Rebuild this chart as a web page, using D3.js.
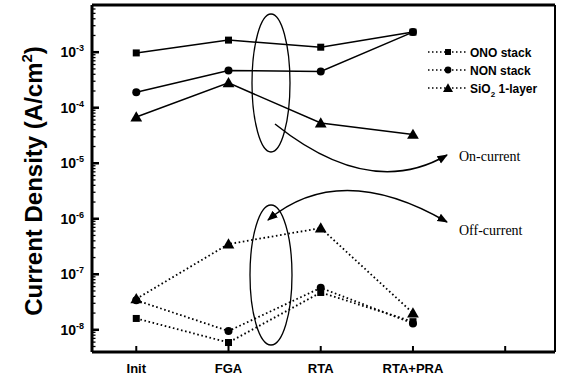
<!DOCTYPE html>
<html><head><meta charset="utf-8">
<script src="https://cdn.jsdelivr.net/npm/d3@7"></script>
<style>body{margin:0;background:#fff}svg{display:block}</style>
</head><body>
<script>
const xTicks = ["Init","FGA","RTA","RTA+PRA",""];
const categories = ["Init","FGA","RTA","RTA+PRA"];
const onONO  = [9.7e-4, 1.65e-3, 1.23e-3, 2.3e-3];
const onNON  = [1.9e-4, 4.7e-4, 4.5e-4, 2.3e-3];
const onSiO2 = [6.8e-5, 2.8e-4, 5.3e-5, 3.3e-5];
const offONO  = [1.6e-8, 5.9e-9, 4.7e-8, 1.4e-8];
const offNON  = [3.4e-8, 9.5e-9, 5.7e-8, 1.3e-8];
const offSiO2 = [3.6e-8, 3.5e-7, 6.8e-7, 2.0e-8];
const yTickExps = [-8,-7,-6,-5,-4,-3];
const legendNames = ["ONO stack","NON stack","SiO\u2082 1-layer"];

const W=561,H=389;
const svg=d3.select("body").append("svg").attr("width",W).attr("height",H);
const L=92,R=555,T=5,B=352;
const x=d3.scaleLinear().domain([-0.48,4.54]).range([L,R]);
const y=d3.scaleLog().domain([Math.pow(10,-8.4),Math.pow(10,-2.15)]).range([B,T]);

// frame
const g=svg.append("g");
g.append("line").attr("x1",L).attr("x2",R).attr("y1",T).attr("y2",T).attr("stroke","#000").attr("stroke-width",3);
g.append("line").attr("x1",L).attr("x2",L).attr("y1",T).attr("y2",B).attr("stroke","#000").attr("stroke-width",3);
g.append("line").attr("x1",L).attr("x2",R).attr("y1",B).attr("y2",B).attr("stroke","#000").attr("stroke-width",3);
g.append("line").attr("x1",R).attr("x2",R).attr("y1",T).attr("y2",B).attr("stroke","#000").attr("stroke-width",2);

// y ticks
const [d0,d1]=y.domain();
const minor=[];
for(let e=-9;e<=-2;e++)for(let m=1;m<10;m++){const v=m*Math.pow(10,e);if(v>=d0&&v<=d1)minor.push({v,major:m===1});}
g.selectAll(".yt").data(minor).join("line")
 .attr("x1",L).attr("x2",d=>L+(d.major?7:3.5)).attr("y1",d=>y(d.v)).attr("y2",d=>y(d.v))
 .attr("stroke","#000").attr("stroke-width",d=>d.major?2.5:1.3);
const yl=g.selectAll(".yl").data(yTickExps).join("text")
 .attr("x",L-8).attr("y",d=>y(Math.pow(10,d))+5)
 .attr("text-anchor","end").attr("font-family","Liberation Sans, Arial, sans-serif")
 .attr("font-size",14).attr("font-weight","bold");
yl.append("tspan").text("10");
yl.append("tspan").attr("dy",-6).attr("font-size",9).text(d=>"-"+Math.abs(d));

// x ticks
g.selectAll(".xt").data(xTicks).join("line")
 .attr("x1",(d,i)=>x(i)).attr("x2",(d,i)=>x(i)).attr("y1",B).attr("y2",B-6)
 .attr("stroke","#000").attr("stroke-width",2);
g.selectAll(".xl").data(xTicks).join("text")
 .attr("x",(d,i)=>x(i)).attr("y",B+21).attr("text-anchor","middle")
 .attr("font-family","Liberation Sans, Arial, sans-serif").attr("font-size",13).attr("font-weight","bold")
 .text(d=>d);

// y title
svg.append("text").attr("transform","translate(42,181) rotate(-90)")
 .attr("text-anchor","middle").attr("font-family","Liberation Sans, Arial, sans-serif")
 .attr("font-size",24).attr("font-weight","bold")
 .html('Current Density (A/cm<tspan dy="-10" font-size="15">2</tspan><tspan dy="10">)</tspan>');

// symbols
function marker(sel,type,cx,cy,s){
  if(type==="square") sel.append("rect").attr("x",cx-3.5*s).attr("y",cy-3.5*s).attr("width",7*s).attr("height",7*s).attr("fill","#000");
  else if(type==="circle") sel.append("circle").attr("cx",cx).attr("cy",cy).attr("r",4*s).attr("fill","#000");
  else sel.append("path").attr("d",d3.symbol(d3.symbolTriangle,60*s*s)()).attr("transform",`translate(${cx},${cy+1})`).attr("fill","#000");
}
const line=d3.line().x((d,i)=>x(i)).y(d=>y(d));
const series=[
 {v:onONO,t:"square",dash:null},{v:onNON,t:"circle",dash:null},{v:onSiO2,t:"triangle",dash:null},
 {v:offONO,t:"square",dash:"1.6,2.6"},{v:offNON,t:"circle",dash:"1.6,2.6"},{v:offSiO2,t:"triangle",dash:"1.6,2.6"}
];
series.forEach(s=>{
  svg.append("path").attr("d",line(s.v)).attr("fill","none").attr("stroke","#000")
   .attr("stroke-width",s.dash?1.8:1.5).attr("stroke-dasharray",s.dash);
  s.v.forEach((v,i)=>marker(svg,s.t,x(i),y(v),1));
});

// legend
const types=["square","circle","triangle"];
const ly=[52,70,88];
legendNames.forEach((n,i)=>{
  svg.append("line").attr("x1",428).attr("x2",466).attr("y1",ly[i]).attr("y2",ly[i])
   .attr("stroke","#000").attr("stroke-width",1.5).attr("stroke-dasharray","1.5,2.5");
  marker(svg,types[i],448,ly[i],0.85);
  const t=svg.append("text").attr("x",470).attr("y",ly[i]+4.5)
   .attr("font-family","Liberation Sans, Arial, sans-serif").attr("font-size",12).attr("font-weight","bold");
  if(i===2){t.html('SiO<tspan dy="4" font-size="8">2</tspan><tspan dy="-4"> 1-layer</tspan>');}
  else t.text(n);
});

// ellipses
svg.append("ellipse").attr("cx",271).attr("cy",83).attr("rx",19).attr("ry",69).attr("fill","none").attr("stroke","#000").attr("stroke-width",1.3);
svg.append("ellipse").attr("cx",271).attr("cy",275).attr("rx",21).attr("ry",70).attr("fill","none").attr("stroke","#000").attr("stroke-width",1.3);

// arrows
const defs=svg.append("defs");
defs.append("marker").attr("id","ah").attr("viewBox","0 0 10 10").attr("refX",9).attr("refY",5)
 .attr("markerWidth",7).attr("markerHeight",7).attr("orient","auto-start-reverse")
 .append("path").attr("d","M0,1 L10,5 L0,9 Z").attr("fill","#000");
svg.append("path").attr("d","M275,124 Q370,200 447,155").attr("fill","none").attr("stroke","#000").attr("stroke-width",1.5).attr("marker-end","url(#ah)");
svg.append("path").attr("d","M268,220 Q340,160 447,222").attr("fill","none").attr("stroke","#000").attr("stroke-width",1.5).attr("marker-end","url(#ah)").attr("marker-start","url(#ah)");

svg.append("text").attr("x",459).attr("y",161).attr("font-family","Liberation Serif, serif").attr("font-size",14).text("On-current");
svg.append("text").attr("x",459).attr("y",235).attr("font-family","Liberation Serif, serif").attr("font-size",14).text("Off-current");
</script>
</body></html>
